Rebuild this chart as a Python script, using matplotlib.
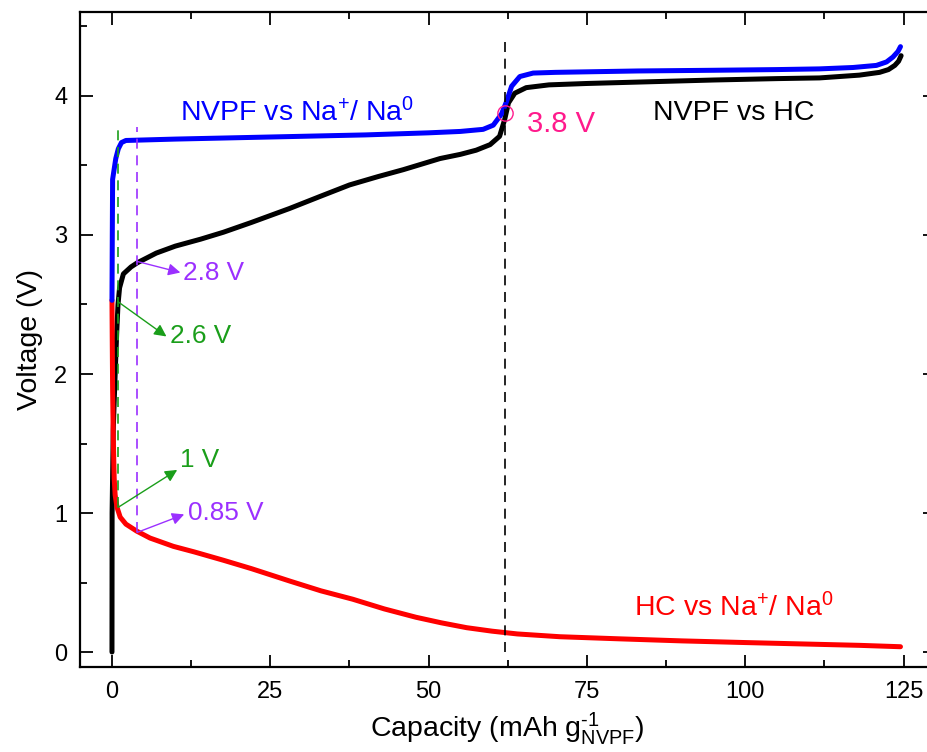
import matplotlib
matplotlib.use('Agg')
import matplotlib.pyplot as plt
from matplotlib.ticker import MultipleLocator

plt.rcParams['font.family'] = ['Liberation Sans', 'DejaVu Sans']
plt.rcParams['mathtext.fontset'] = 'custom'
plt.rcParams['mathtext.rm'] = 'Liberation Sans'
plt.rcParams['mathtext.it'] = 'Liberation Sans:italic'
plt.rcParams['mathtext.bf'] = 'Liberation Sans:bold'

# NVPF vs Na+/Na0 (blue)
blue_cap = [0, 0.05, 0.1, 0.6, 1.0, 1.5, 2.2, 10, 20, 30, 40, 50, 55, 58.6, 60.2,
            61.5, 62.3, 63.1, 64.4, 66.5, 70, 83, 95, 105, 111.7, 117, 120.7, 122.3,
            123.3, 124.1, 124.5]
blue_v = [2.53, 3.0, 3.4, 3.55, 3.62, 3.665, 3.68, 3.69, 3.70, 3.71, 3.72, 3.735, 3.745,
          3.76, 3.79, 3.87, 3.96, 4.07, 4.14, 4.165, 4.17, 4.18, 4.185, 4.19, 4.195,
          4.205, 4.22, 4.245, 4.28, 4.32, 4.355]

# NVPF vs HC (black)
black_cap = [0, 0.02, 0.2, 0.5, 0.75, 0.95, 1.2, 1.8, 3, 4, 7, 10, 14, 17.6, 22, 28, 33,
             37.5, 42, 46, 51.8, 55, 57.5, 59.7, 61.2, 62, 62.6, 63.6, 65.4, 69, 75, 83,
             95, 105, 111.7, 118, 121.2, 122.6, 123.6, 124.2, 124.6]
black_v = [0, 1.0, 1.6, 2.0, 2.3, 2.5, 2.62, 2.72, 2.77, 2.80, 2.87, 2.92, 2.97, 3.02,
           3.09, 3.19, 3.28, 3.36, 3.42, 3.47, 3.55, 3.58, 3.61, 3.65, 3.71, 3.83, 3.95,
           4.02, 4.06, 4.08, 4.09, 4.10, 4.115, 4.125, 4.13, 4.15, 4.17, 4.19, 4.22,
           4.25, 4.29]

# HC vs Na+/Na0 (red)
red_cap = [0, 0.05, 0.1, 0.2, 0.35, 0.5, 0.8, 1.3, 2.2, 3.9, 6, 9.7, 13, 17.6, 22, 28.1,
           33, 38, 43, 48, 52, 56, 60, 64, 70.7, 80, 90, 100, 111.7, 118, 124.5]
red_v = [2.53, 2.2, 1.9, 1.55, 1.25, 1.13, 1.04, 0.97, 0.92, 0.87, 0.82, 0.76, 0.72,
         0.66, 0.60, 0.51, 0.44, 0.38, 0.31, 0.25, 0.21, 0.175, 0.15, 0.13, 0.11, 0.095,
         0.08, 0.068, 0.055, 0.048, 0.038]

purple = '#9B30FF'
green = '#1A9E1A'
pink = '#FF1A8C'

fig = plt.figure(figsize=(9.28, 7.52), dpi=100)
ax = fig.add_axes([0.0862, 0.113, 0.921, 0.871])

ax.plot(black_cap, black_v, color='black', lw=3.6, solid_capstyle='round', solid_joinstyle='round')
ax.plot(red_cap, red_v, color='red', lw=3.6, solid_capstyle='round', solid_joinstyle='round')
ax.plot(blue_cap, blue_v, color='blue', lw=3.6, solid_capstyle='round', solid_joinstyle='round')

# guide lines
ax.plot([0.95, 0.95], [1.04, 3.78], color=green, lw=1.2, dashes=(6, 4))
ax.plot([3.95, 3.95], [0.86, 3.78], color=purple, lw=1.2, dashes=(6, 4))
ax.plot([62, 62], [0, 4.4], color='black', lw=1.2, dashes=(6, 4))

ax.plot([62], [3.88], 'o', ms=11, mfc='none', mec=pink, mew=1)
ax.text(65.5, 3.80, '3.8 V', color=pink, fontsize=21, ha='left', va='center')

arrow = dict(arrowstyle='-|>', lw=1, mutation_scale=18, shrinkA=0, shrinkB=0)
ax.annotate('', xy=(10.8, 2.73), xytext=(3.95, 2.81), arrowprops=dict(arrow, color=purple))
ax.text(11.2, 2.73, '2.8 V', color=purple, fontsize=18.8, ha='left', va='center')
ax.annotate('', xy=(8.6, 2.27), xytext=(0.95, 2.52), arrowprops=dict(arrow, color=green))
ax.text(9.2, 2.27, '2.6 V', color=green, fontsize=18.8, ha='left', va='center')
ax.annotate('', xy=(10.3, 1.31), xytext=(0.95, 1.04), arrowprops=dict(arrow, color=green))
ax.text(10.7, 1.38, '1 V', color=green, fontsize=18.8, ha='left', va='center')
ax.annotate('', xy=(11.4, 0.99), xytext=(3.95, 0.86), arrowprops=dict(arrow, color=purple))
ax.text(12.0, 1.0, '0.85 V', color=purple, fontsize=18.8, ha='left', va='center')

ax.text(10.7, 3.88, 'NVPF vs Na$^{+}$/ Na$^{0}$', color='blue', fontsize=20.5, ha='left', va='center')
ax.text(85.4, 3.88, 'NVPF vs HC', color='black', fontsize=20.5, ha='left', va='center')
ax.text(82.5, 0.32, 'HC vs Na$^{+}$/ Na$^{0}$', color='red', fontsize=20.5, ha='left', va='center')

ax.set_xlim(-5.05, 129.9)
ax.set_ylim(-0.108, 4.604)
ax.xaxis.set_major_locator(MultipleLocator(25))
ax.xaxis.set_minor_locator(MultipleLocator(12.5))
ax.yaxis.set_major_locator(MultipleLocator(1))
ax.yaxis.set_minor_locator(MultipleLocator(0.5))
ax.tick_params(which='both', direction='in', top=True, right=True, width=1.3, labelsize=17)
ax.tick_params(which='major', length=9)
ax.tick_params(which='minor', length=5)
ax.tick_params(axis='x', pad=10)
ax.tick_params(axis='y', pad=9)
for s in ax.spines.values():
    s.set_linewidth(1.6)

ax.set_xlabel('Capacity (mAh g$^{\\mathrm{\u2010}1}_{\\mathrm{NVPF}}$)', fontsize=20.5, labelpad=5)
ax.set_ylabel('Voltage (V)', fontsize=20.5, labelpad=8)

fig.savefig('out.png', dpi=100)
